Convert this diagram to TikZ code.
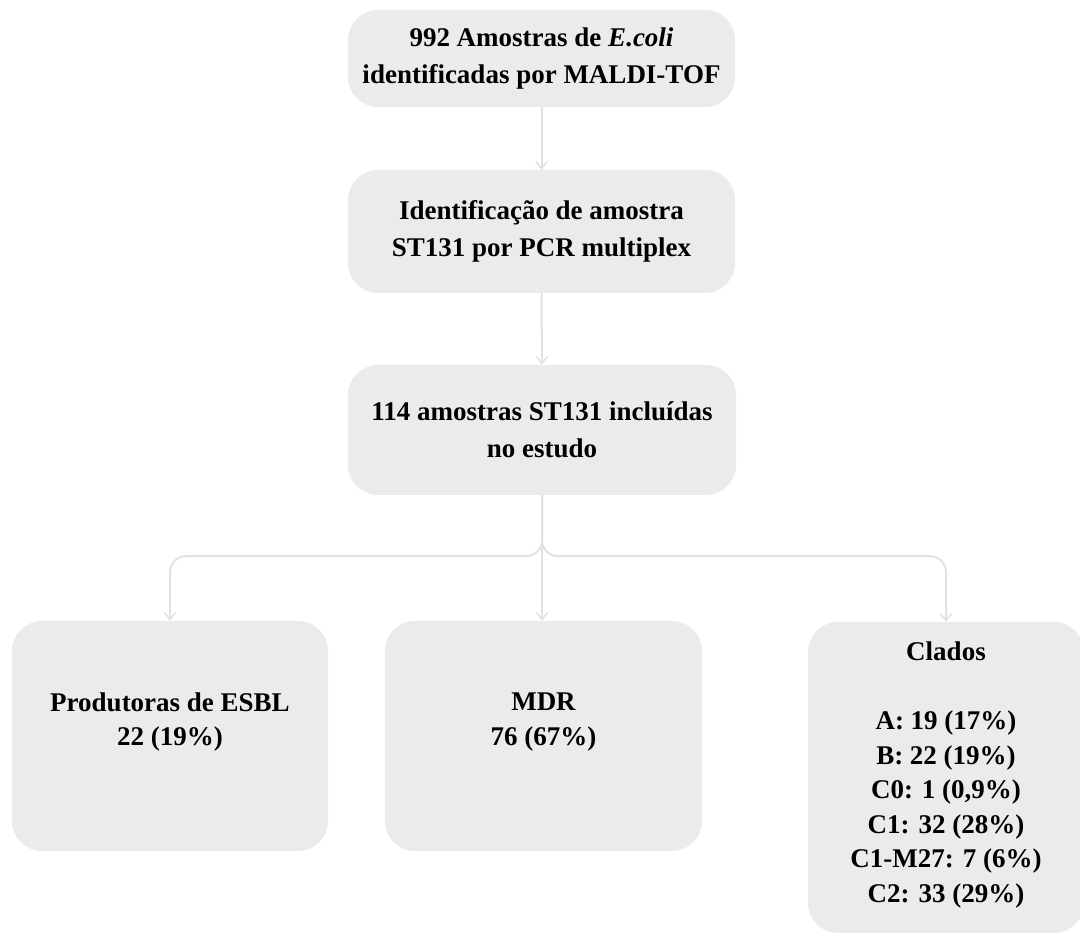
\documentclass[tikz,border=0pt]{standalone}
\usepackage{fontspec}
\setmainfont{Liberation Serif}
\usetikzlibrary{arrows.meta}
\definecolor{boxfill}{HTML}{EBEBEB}
\definecolor{conncol}{HTML}{E2E2E2}
\begin{document}
\begin{tikzpicture}[x=1pt,y=1pt,
  box/.style={fill=boxfill, draw=none, rounded corners=30pt, inner sep=0pt},
  txt/.style={font=\fontsize{27}{37}\selectfont\bfseries, align=center, inner sep=0pt},
  btxt/.style={font=\fontsize{27}{34.5}\selectfont\bfseries, align=center, inner sep=0pt},
  conn/.style={draw=conncol, line width=2pt, -{Straight Barb[length=7pt,width=11pt,line width=1.5pt]}}]
\useasboundingbox (0,0) rectangle (1080,935);

\node[box, txt, minimum width=387pt, minimum height=97pt] (n1) at (541.5,876.5)
  {992 Amostras de \textit{E.coli}\\identificadas por MALDI-TOF};
\node[box, txt, minimum width=387pt, minimum height=123pt] (n2) at (541.5,703.5)
  {Identificação de amostra\\ST131 por PCR multiplex};
\node[box, txt, minimum width=388pt, minimum height=130pt] (n3) at (542,505)
  {114 amostras ST131 incluídas\\no estudo};

\node[box, minimum width=316pt, minimum height=230pt] (esbl) at (170,199) {};
\node[btxt] (esblt) at (170,213) {Produtoras de ESBL\\22 (19\%)};
\node[box, minimum width=317pt, minimum height=230pt] (mdr) at (543.5,199) {};
\node[btxt] (mdrt) at (543.5,213) {MDR\\76 (67\%)};
\node[box, minimum width=276pt, minimum height=311pt] (clados) at (946,157.5) {};
\node[btxt, anchor=north] (cladost) at (946,293)
  {Clados\\[34.5pt]A: 19 (17\%)\\B: 22 (19\%)\\C0: 1 (0,9\%)\\C1: 32 (28\%)\\C1-M27: 7 (6\%)\\C2: 33 (29\%)};

\draw[conn] (n1) -- (n2);
\draw[conn] (n2) -- (n3);
\draw[conn, rounded corners=16pt] (n3.south) -- ++(0,-61) -| (esbl.north);
\draw[conn] (n3.south) -- (n3.south |- mdr.north);
\draw[conn, rounded corners=16pt] (n3.south) -- ++(0,-61) -| (clados.north);
\end{tikzpicture}
\end{document}
